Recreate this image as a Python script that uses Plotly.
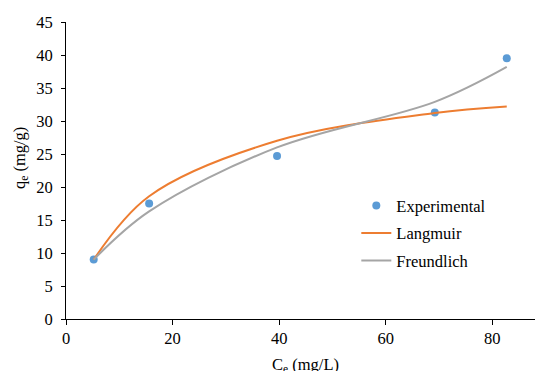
import plotly.graph_objects as go

ce = [5.2, 15.6, 39.6, 69.2, 82.7]
qe_exp = [9.0, 17.5, 24.7, 31.3, 39.5]
qe_langmuir = [9.0, 18.6, 27.0, 31.2, 32.2]
qe_freundlich = [9.0, 16.3, 26.0, 32.9, 38.2]

x_ticks = [0, 20, 40, 60, 80]

font_family = "Liberation Serif, Times New Roman, serif"
fs = 16.5

fig = go.Figure()
fig.add_trace(go.Scatter(x=ce, y=qe_exp, mode="markers", name="Experimental",
                         legendgroup="a",
                         marker=dict(color="#5B9BD5", size=8)))
fig.add_trace(go.Scatter(x=ce, y=qe_langmuir, mode="lines", name="Langmuir",
                         legendgroup="b",
                         line=dict(color="#ED7D31", width=2, shape="spline", smoothing=1)))
fig.add_trace(go.Scatter(x=ce, y=qe_freundlich, mode="lines", name="Freundlich",
                         legendgroup="c",
                         line=dict(color="#A5A5A5", width=2, shape="spline", smoothing=1)))

fig.update_layout(
    width=535, height=371,
    margin=dict(l=65.5, r=0, t=21.7, b=51.6, autoexpand=False),
    paper_bgcolor="white", plot_bgcolor="white",
    font=dict(family=font_family, size=fs, color="black"),
    showlegend=True,
    legend=dict(x=0.619, y=0.44, xanchor="left", yanchor="top",
                bgcolor="rgba(0,0,0,0)", font=dict(size=fs), tracegroupgap=3,
                traceorder="grouped"),
    xaxis=dict(range=[0, 88.0], tickvals=x_ticks, showgrid=False,
               showline=True, linecolor="black", linewidth=1, ticks="outside",
               ticklen=5, tickcolor="black", zeroline=False, automargin=False,
               tickfont=dict(size=fs), ticklabelstandoff=-1),
    yaxis=dict(range=[0, 45], dtick=5, showgrid=False,
               showline=True, linecolor="black", linewidth=1, ticks="outside",
               ticklen=4, tickcolor="black", zeroline=False, automargin=False,
               tickfont=dict(size=fs), ticklabelstandoff=5),
    annotations=[
        dict(text="C<sub>e</sub> (mg/L)", xref="paper", yref="paper",
             x=0.51, y=-0.116, xanchor="center", yanchor="top", showarrow=False,
             font=dict(size=fs)),
        dict(text="q<sub>e</sub> (mg/g)", xref="paper", yref="paper",
             x=-0.098, y=0.542, xanchor="center", yanchor="middle", showarrow=False,
             textangle=-90, font=dict(size=fs)),
    ],
)

fig.write_html(
    "out.html",
    config={"displayModeBar": False},
    post_script="document.body.style.margin='0';document.body.style.overflow='hidden';",
)
